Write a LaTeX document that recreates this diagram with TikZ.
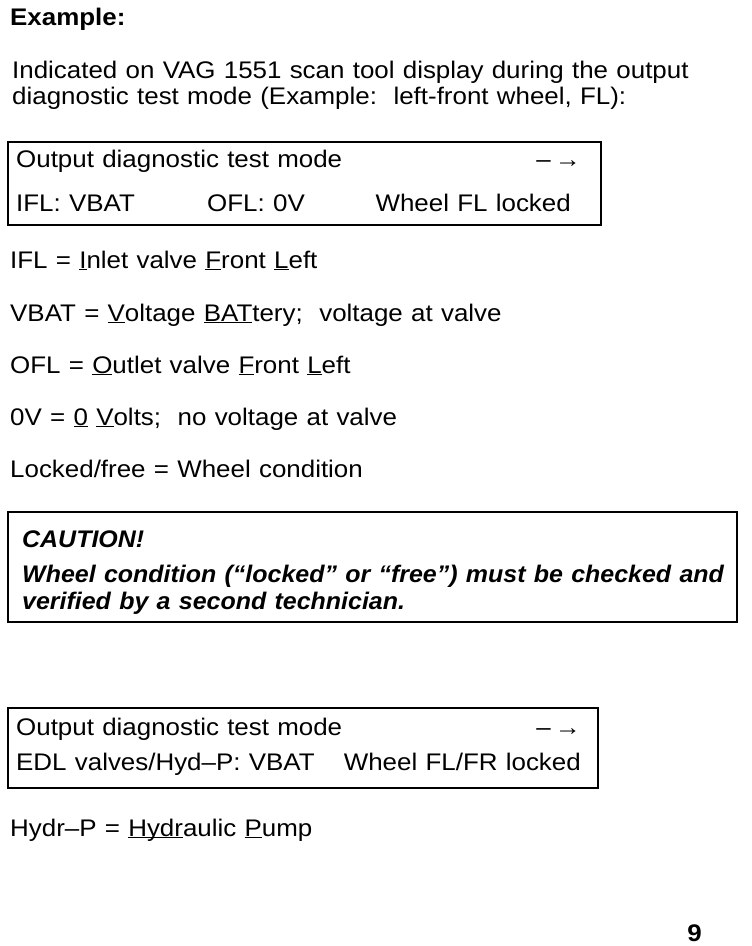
\documentclass[tikz,border=0pt]{standalone}
\usepackage{fontspec}
\setmainfont{Liberation Sans}[FakeStretch=1.08,WordSpace=1.15]
\newfontfamily\boldit{Liberation Sans}[FakeStretch=1.04,WordSpace=1.2]
\newcommand\ulx[1]{\underline{\smash{#1}}}
\begin{document}
\begin{tikzpicture}[x=1pt,y=-1pt,
  txt/.style={anchor=base west,inner sep=0pt,font=\fontsize{24}{28}\selectfont},
  txte/.style={anchor=base east,inner sep=0pt,font=\fontsize{24}{28}\selectfont},
  boxline/.style={draw=black,line width=2pt},
  cau/.style={anchor=base west,inner sep=0pt,font=\fontsize{24}{28}\selectfont\boldit\bfseries\itshape}]
\useasboundingbox[fill=white] (0,0) rectangle (752,946);
\node[txt,font=\fontsize{24}{28}\selectfont\bfseries] (ex) at (10,25) {Example:};
\node[txt] (p1) at (12,78) {Indicated on VAG 1551 scan tool display during the output};
\node[txt] (p2) at (12,104) {diagnostic test mode (Example:\ \ left-front wheel, FL):};
% box 1
\draw[boxline] (8,142) rectangle (601,225);
\node[txt] (b1a) at (16,167) {Output diagnostic test mode};
\node[txte] (b1b) at (581,167) {–\,→};
\node[txt] (b1c) at (16,211) {IFL: VBAT};
\node[txt] (b1d) at (207,211) {OFL: 0V};
\node[txte] (b1e) at (571,211) {Wheel FL locked};
% definitions
\node[txt] (d1) at (10,268) {IFL = \ulx{I}nlet valve \ulx{F}ront \ulx{L}eft};
\node[txt] (d2) at (10,321) {VBAT = \ulx{V}oltage \ulx{BAT}tery;\ \ voltage at valve};
\node[txt] (d3) at (10,373) {OFL = \ulx{O}utlet valve \ulx{F}ront \ulx{L}eft};
\node[txt] (d4) at (10,425) {0V = \ulx{0} \ulx{V}olts;\ \ no voltage at valve};
\node[txt] (d5) at (10,477) {Locked/free = Wheel condition};
% caution
\draw[boxline] (8,512) rectangle (737,622);
\node[cau] (c1) at (22,547) {CAUTION!};
\node[cau] (c2) at (22,582) {Wheel condition (“locked” or “free”) must be checked and};
\node[cau] (c3) at (22,609) {verified by a second technician.};
% box 2
\draw[boxline] (8,708) rectangle (598,788);
\node[txt] (b2a) at (16,735) {Output diagnostic test mode};
\node[txte] (b2b) at (581,735) {–\,→};
\node[txt] (b2c) at (16,770) {EDL valves/Hyd–P: VBAT};
\node[txte] (b2d) at (581,770) {Wheel FL/FR locked};
\node[txt] (h) at (10,836) {Hydr–P = \ulx{Hydr}aulic \ulx{P}ump};
\node[txte,font=\fontsize{24}{28}\selectfont\bfseries] (pg) at (702,941) {9};
\end{tikzpicture}
\end{document}
